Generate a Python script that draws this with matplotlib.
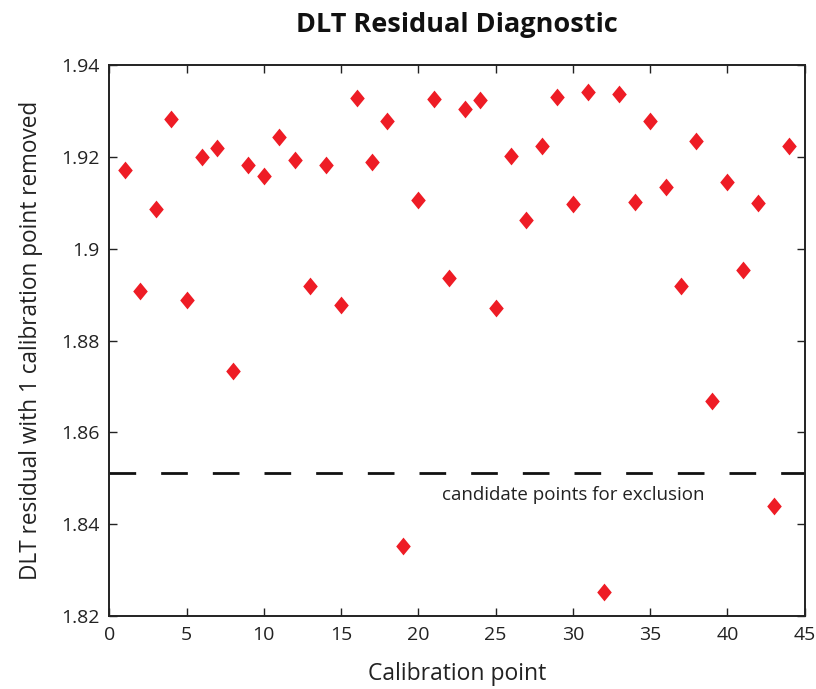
# DLT residual diagnostic: residual after dropping each calibration point

import numpy as np
import matplotlib.pyplot as plt
from matplotlib.path import Path

plt.rcParams['font.family'] = ['Open Sans', 'DejaVu Sans']

points = np.arange(1, 45)
residuals = [1.9172, 1.8909, 1.9088, 1.9284, 1.8889, 1.9200, 1.9221, 1.8734,
             1.9183, 1.9160, 1.9243, 1.9194, 1.8920, 1.9184, 1.8878, 1.9329,
             1.9189, 1.9279, 1.8353, 1.9107, 1.9326, 1.8937, 1.9305, 1.9324,
             1.8871, 1.9203, 1.9063, 1.9225, 1.9331, 1.9097, 1.9342, 1.8252,
             1.9338, 1.9102, 1.9279, 1.9135, 1.8920, 1.9236, 1.8668, 1.9145,
             1.8955, 1.9101, 1.8439, 1.9224]
threshold = 1.8511
note = 'candidate points for exclusion'

# Diamond a bit wider than matplotlib's 'd'
diamond = Path([(0, 1), (0.82, 0), (0, -1), (-0.82, 0), (0, 1)],
               [Path.MOVETO, Path.LINETO, Path.LINETO, Path.LINETO,
                Path.CLOSEPOLY])

fig = plt.figure(figsize=(8.16, 6.89), dpi=100)
ax = fig.add_axes([0.134, 0.106, 0.852, 0.799])

ax.plot([0, 45], [threshold, threshold], color='#111111', lw=2,
        dashes=(9.6, 9.0))
ax.plot(points, residuals, linestyle='none', marker=diamond,
        markersize=12.8, color='#ee1c25', markeredgewidth=0)
ax.text(30, 1.8463, note, ha='center', va='center', fontsize=13.5,
        color='#222222')

ax.set_xlim(0, 45)
ax.set_ylim(1.82, 1.94)
ax.set_xticks(np.arange(0, 46, 5))
ax.set_yticks([1.82, 1.84, 1.86, 1.88, 1.9, 1.92, 1.94])
ax.set_yticklabels(['1.82', '1.84', '1.86', '1.88', '1.9', '1.92', '1.94'])
ax.tick_params(direction='in', length=6, width=1, top=True, right=True,
               labelsize=14, colors='#222222', pad=7)
for s in ax.spines.values():
    s.set_linewidth(1.4)
    s.set_color('#222222')

ax.set_xlabel('Calibration point', fontsize=16.5, labelpad=13, color='#222222')
ax.set_ylabel('DLT residual with 1 calibration point removed', fontsize=16.3,
              labelpad=13, color='#222222')
ax.set_title('DLT Residual Diagnostic', fontsize=19.5, fontweight='bold',
             pad=24, color='#111111')

plt.savefig('out.png', dpi=100)
